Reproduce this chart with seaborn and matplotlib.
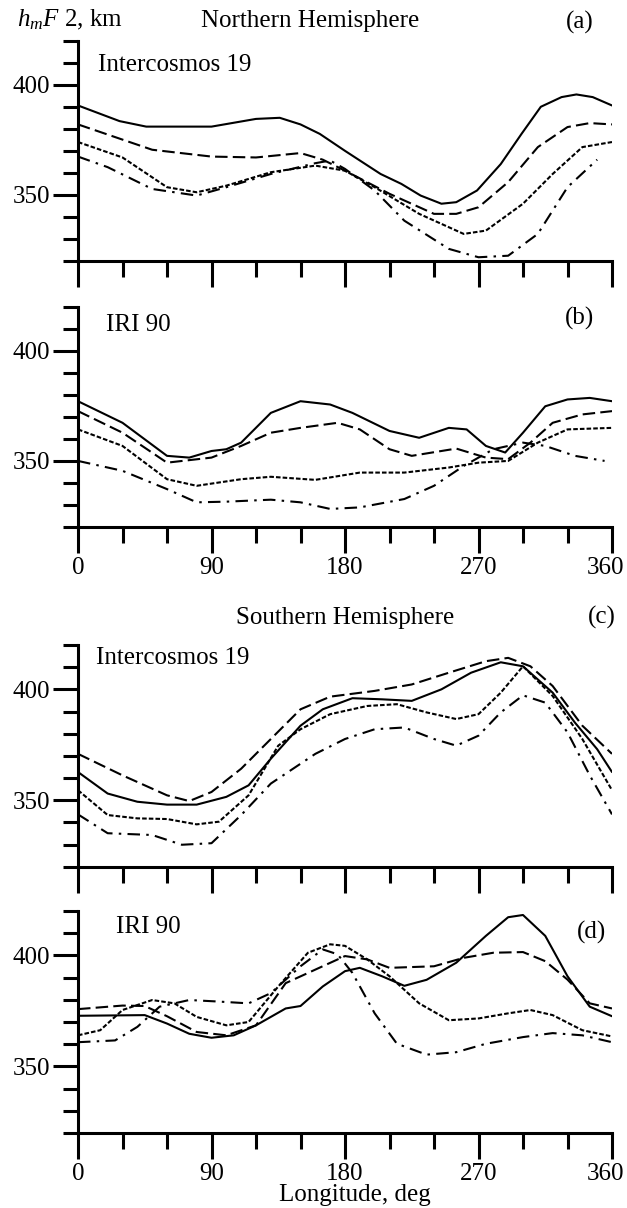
import matplotlib
matplotlib.use("Agg")
import matplotlib.pyplot as plt
import seaborn as sns
from matplotlib.ticker import FixedLocator
from matplotlib.transforms import ScaledTranslation

sns.set_theme(style="white")
plt.rcParams['font.family'] = ['Liberation Serif', 'DejaVu Serif']
plt.rcParams['mathtext.fontset'] = 'custom'
plt.rcParams['mathtext.rm'] = 'Liberation Serif'
plt.rcParams['mathtext.it'] = 'Liberation Serif:italic'
plt.rcParams['text.color'] = 'black'

# ---------------- data (longitude, deg ; hmF2, km) ----------------
# Panel (a) Northern Hemisphere, Intercosmos 19
a_solid_x = [0, 28, 46, 90, 120, 136, 150, 163, 180, 204, 218, 231, 245, 255, 269, 285, 299, 312, 326, 336, 347, 360]
a_solid_y = [390.6, 383.5, 381, 381, 384.5, 385, 382, 377.7, 370, 359.5, 355, 349.7, 346, 346.7, 352, 364, 377.7, 390, 394.4, 395.6, 394.4, 390.6]
a_dash_x = [0, 50, 90, 120, 150, 165, 180, 210, 240, 255, 270, 290, 310, 330, 345, 360]
a_dash_y = [382, 370.5, 367.4, 367, 369, 366, 361, 350.5, 341.4, 341.4, 344.4, 355.8, 371.7, 380.8, 382.6, 382]
a_dot_x = [0, 30, 60, 80, 100, 130, 160, 180, 200, 230, 260, 275, 300, 320, 340, 360]
a_dot_y = [374, 367, 353.5, 351.2, 354.2, 360.3, 363.3, 361, 353.5, 341.4, 332.3, 333.8, 346, 359.5, 371.7, 374]
a_dd_x = [0, 20, 50, 80, 100, 130, 160, 170, 180, 200, 220, 250, 270, 290, 310, 330, 350]
a_dd_y = [367.4, 362.6, 352.7, 349.7, 353.5, 359.5, 364.4, 365.6, 361.8, 352, 338.3, 325.5, 321.7, 322.4, 332.3, 353.5, 366]

# Panel (b) Northern Hemisphere, IRI 90
b_solid_x = [0, 30, 60, 75, 90, 100, 110, 130, 150, 170, 185, 210, 230, 250, 262, 275, 288, 300, 315, 330, 345, 360]
b_solid_y = [377.1, 367.3, 352.3, 351.5, 354.5, 355.3, 358.3, 371.8, 377.1, 375.6, 371.8, 363.6, 360.5, 365, 364.3, 356.8, 353.8, 362.8, 374.8, 377.9, 378.6, 377.1]
b_dash_x = [0, 30, 60, 90, 110, 130, 150, 175, 190, 210, 225, 255, 275, 290, 305, 320, 340, 360]
b_dash_y = [372.6, 362.8, 349.2, 351.5, 356.8, 362.8, 365, 367.3, 364.3, 355.3, 352.3, 355.6, 351.5, 350.8, 358.3, 367.3, 371.1, 372.6]
b_dot_x = [0, 30, 60, 80, 110, 130, 160, 190, 220, 250, 270, 290, 310, 330, 360]
b_dot_y = [364.3, 356.8, 341.7, 338.7, 341.7, 342.8, 341.4, 344.7, 344.7, 347, 349.2, 350, 358.3, 364.3, 365]
b_dd_x = [0, 30, 60, 80, 100, 130, 150, 170, 190, 220, 240, 260, 280, 300, 315, 335, 355]
b_dd_y = [350, 345.5, 337.2, 331.2, 331.5, 332.4, 331.2, 328.2, 328.9, 332.7, 338.7, 347.7, 355.3, 358.3, 356.8, 352.3, 350]

# Panel (c) Southern Hemisphere, Intercosmos 19
c_solid_x = [0, 20, 40, 60, 80, 100, 115, 130, 150, 165, 185, 205, 225, 245, 265, 285, 300, 320, 335, 350, 360]
c_solid_y = [362.7, 353, 349.3, 348, 348, 351.5, 356.7, 368.7, 383.6, 391, 396, 395.5, 394.8, 400, 407.5, 412.2, 410.4, 398.5, 385, 373, 362.7]
c_dash_x = [0, 30, 60, 75, 90, 110, 130, 150, 170, 200, 225, 250, 275, 290, 305, 320, 340, 360]
c_dash_y = [370.9, 361.2, 352.2, 349.6, 353.7, 364.2, 377.6, 391, 396.7, 399.3, 402.2, 407.5, 412.7, 414.2, 410.4, 401.5, 383.6, 370.9]
c_dot_x = [0, 20, 40, 60, 80, 95, 115, 135, 150, 170, 195, 215, 235, 255, 270, 285, 300, 320, 340, 360]
c_dot_y = [354.5, 343.3, 341.8, 341.5, 339.1, 340.3, 352.2, 374.6, 382, 388.8, 392.5, 393.3, 389.6, 386.6, 388.8, 398.5, 410.4, 397, 377.6, 354.5]
c_dd_x = [0, 20, 50, 70, 90, 110, 130, 160, 180, 200, 220, 240, 255, 270, 285, 300, 315, 330, 345, 360]
c_dd_y = [343.6, 335.1, 334.3, 329.9, 330.6, 343.3, 357.5, 370.9, 377.6, 382, 382.8, 377.6, 374.6, 379.1, 389.6, 397.3, 394, 380.6, 361.2, 343.6]

# Panel (d) Southern Hemisphere, IRI 90
d_solid_x = [0, 45, 60, 75, 90, 105, 120, 140, 150, 165, 180, 190, 205, 220, 235, 255, 275, 290, 300, 315, 330, 345, 360]
d_solid_y = [372.8, 373.1, 369.3, 364.7, 362.9, 364, 368.5, 376.1, 377.2, 386, 392.9, 394.4, 390.6, 386.3, 389, 396.7, 408.8, 417.2, 418.2, 408.8, 390.6, 376.9, 372.6]
d_dash_x = [0, 30, 45, 60, 80, 100, 120, 140, 160, 180, 195, 210, 240, 260, 280, 300, 315, 330, 345, 360]
d_dash_y = [375.8, 377.4, 377.2, 372.6, 365.5, 364, 368.5, 387.5, 393.6, 399.7, 398.2, 394.4, 395.1, 398.9, 401.2, 401.5, 397.4, 389.1, 378.4, 376.1]
d_dot_x = [0, 15, 30, 50, 65, 80, 100, 115, 135, 155, 170, 180, 195, 210, 230, 250, 270, 290, 305, 320, 340, 360]
d_dot_y = [364, 366.3, 375.4, 379.9, 378.4, 372.3, 368.5, 370, 386, 401.2, 405, 404.3, 398.2, 390.6, 378.4, 370.8, 371.6, 373.9, 375.4, 373.1, 366.3, 363.5]
d_dd_x = [0, 25, 40, 55, 75, 95, 115, 130, 150, 165, 175, 185, 200, 215, 235, 255, 275, 300, 320, 340, 360]
d_dd_y = [360.9, 361.7, 367.8, 376.9, 379.9, 379.2, 378.4, 383, 395.1, 402.7, 400.5, 392.1, 373.9, 360.2, 355.3, 356.4, 360.2, 363.2, 365, 364, 360.9]

panel_letters = ["(a)", "(b)", "(c)", "(d)"]
model_labels = ["Intercosmos 19", "IRI 90", "Intercosmos 19", "IRI 90"]
hemispheres = ["Northern Hemisphere", "Southern Hemisphere"]
x_major = [0, 90, 180, 270, 360]
x_minor = [30, 60, 120, 150, 210, 240, 300, 330]
y_major = [350, 400]
y_minor = [320, 330, 340, 360, 370, 380, 390, 410, 420]

panels = [
    [(a_solid_x, a_solid_y), (a_dash_x, a_dash_y), (a_dot_x, a_dot_y), (a_dd_x, a_dd_y)],
    [(b_solid_x, b_solid_y), (b_dash_x, b_dash_y), (b_dot_x, b_dot_y), (b_dd_x, b_dd_y)],
    [(c_solid_x, c_solid_y), (c_dash_x, c_dash_y), (c_dot_x, c_dot_y), (c_dd_x, c_dd_y)],
    [(d_solid_x, d_solid_y), (d_dash_x, d_dash_y), (d_dot_x, d_dot_y), (d_dd_x, d_dd_y)],
]
styles = ["-", (0, (6, 2.5)), (0, (2.2, 1.0)), (0, (6, 3, 1.2, 3))]

# ---------------- figure ----------------
W, H = 627, 1208
fig = plt.figure(figsize=(W / 100, H / 100), dpi=100)

def fx(px):
    return px / W

def fy(py):
    return 1 - py / H

left, right = 78, 612
panel_pix = [(40.7, 261), (306.7, 527), (645, 866.7), (911, 1133)]

FS = 18
for i, (top, bot) in enumerate(panel_pix):
    ax = fig.add_axes([fx(left), fy(bot), fx(right - left), (bot - top) / H])
    for (xs, ys), ls in zip(panels[i], styles):
        sns.lineplot(x=xs, y=ys, ax=ax, color="black", linewidth=1.5,
                     linestyle=ls, legend=False)
    ax.set_xlim(0, 360)
    ax.set_ylim(320, 420)
    ax.xaxis.set_major_locator(FixedLocator(x_major))
    ax.xaxis.set_minor_locator(FixedLocator(x_minor))
    ax.yaxis.set_major_locator(FixedLocator(y_major))
    ax.yaxis.set_minor_locator(FixedLocator(y_minor))
    for s in ["top", "right"]:
        ax.spines[s].set_visible(False)
    for s in ["left", "bottom"]:
        ax.spines[s].set_linewidth(2.2)
        ax.spines[s].set_color("black")
    ax.tick_params(axis="both", which="both", direction="out", color="black",
                   width=2.2, labelsize=FS, labelcolor="black",
                   bottom=True, left=True, top=False, right=False)
    ax.tick_params(axis="x", which="major", length=18.5, pad=3)
    ax.tick_params(axis="x", which="minor", length=11.5)
    ax.tick_params(axis="y", which="major", length=18, pad=2)
    ax.tick_params(axis="y", which="minor", length=11)
    ax.set_yticklabels([str(v) for v in y_major])
    if i in (1, 3):
        ax.set_xticklabels([str(v) for v in x_major])
        last = ax.get_xticklabels()[-1]
        last.set_transform(last.get_transform() +
                           ScaledTranslation(-0.07, 0, fig.dpi_scale_trans))
    else:
        ax.set_xticklabels([])
    ax.set_xlabel("")
    ax.set_ylabel("")
    ax.grid(False)
    ax.set_facecolor("white")

# texts
fig.text(fx(17), fy(20), r"$h_mF$ 2, km", fontsize=FS, ha="left", va="center")
fig.text(fx(310), fy(21), hemispheres[0], fontsize=FS, ha="center", va="center")
fig.text(fx(345), fy(618), hemispheres[1], fontsize=FS, ha="center", va="center")
letter_pos = [(580, 22), (580, 318), (602, 617), (592, 932)]
for (px, py), t in zip(letter_pos, panel_letters):
    fig.text(fx(px), fy(py), t, fontsize=FS, ha="center", va="center")
label_pos = [(98, 65), (106, 325), (96, 658), (116, 927)]
for (px, py), t in zip(label_pos, model_labels):
    fig.text(fx(px), fy(py), t, fontsize=FS, ha="left", va="center")
fig.text(fx(355), fy(1195), "Longitude, deg", fontsize=FS, ha="center", va="center")

fig.savefig("out.png", dpi=100, facecolor="white")
